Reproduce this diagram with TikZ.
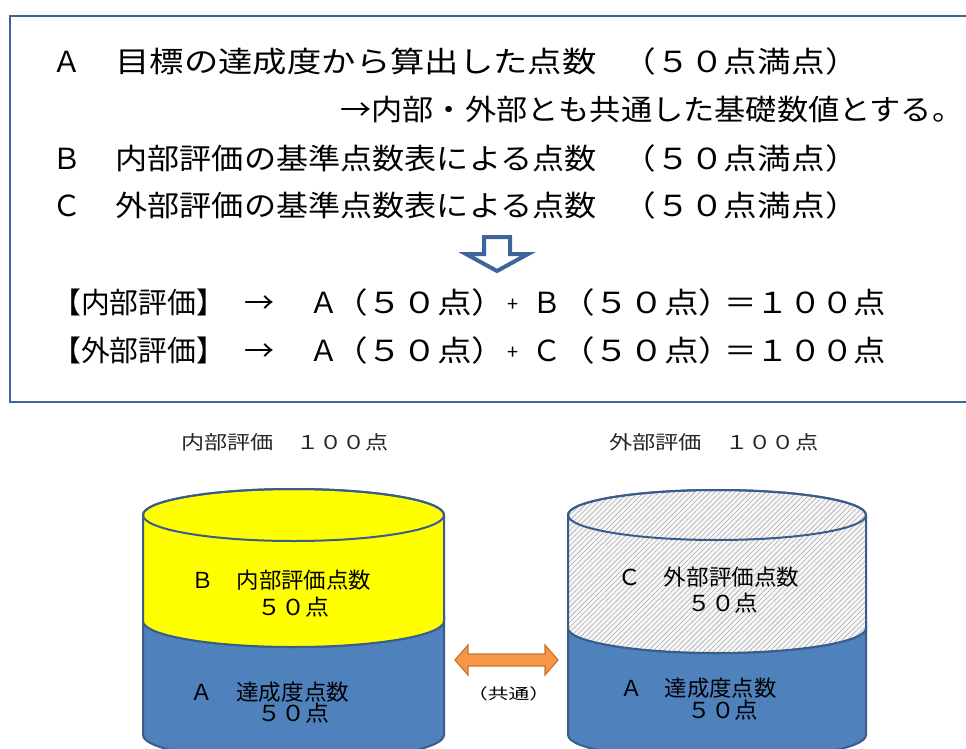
\documentclass[tikz,border=0pt]{standalone}
\usepackage{fontspec}
\usepackage{graphicx}
\setmainfont{Noto Sans CJK JP}
\usetikzlibrary{patterns.meta}
\definecolor{frameblue}{HTML}{3F639B}
\definecolor{cylblue}{HTML}{4F81BD}
\definecolor{cyledge}{HTML}{385D8A}
\definecolor{cylyellow}{HTML}{FFFF00}
\definecolor{arroworange}{HTML}{F79646}
\definecolor{arrowedge}{HTML}{C8742F}
\definecolor{titlegray}{HTML}{262626}
\newcommand\fitw[2]{\resizebox{#1}{\height}{#2}}
\newcommand\cutr[1]{\makebox[0.42em][l]{#1}}
\tikzset{
  txt/.style={inner sep=0pt, anchor=base west},
  big/.style={txt, font=\fontsize{29}{29}\selectfont},
  mid/.style={txt, font=\fontsize{22}{22}\selectfont},
  ttl/.style={txt, font=\fontsize{19}{19}\selectfont, text=titlegray},
  sml/.style={txt, font=\fontsize{15}{15}\selectfont},
  plus/.style={txt, font=\fontsize{20}{20}\selectfont},
  cyl/.style={draw=cyledge, line width=2pt},
}
\begin{document}
\begin{tikzpicture}[x=1pt,y=-1pt]
\useasboundingbox (0,0) rectangle (966,749);
\fill[white] (0,0) rectangle (966,749);
% top frame
\draw[frameblue, line width=2.5pt] (10,16) rectangle (985,402);
% line A
\node[big] (la) at (52,73) {Ａ};
\node[big] (ta) at (115.3,73) {\fitw{481pt}{目標の達成度から算出した点数}};
\node[big] (pa) at (622.7,73) {\fitw{216.3pt}{（５０点満点\cutr{）}}};
% line 2
\node[big] (t2) at (340,121) {\fitw{605pt}{→内部・外部とも共通した基礎数値とする\cutr{。}}};
% line B
\node[big] (lb) at (52,169) {Ｂ};
\node[big] (tb) at (115.4,169) {\fitw{481pt}{内部評価の基準点数表による点数}};
\node[big] (pb) at (622.7,169) {\fitw{216.3pt}{（５０点満点\cutr{）}}};
% line C
\node[big] (lc) at (52,216) {Ｃ};
\node[big] (tc) at (115.4,216) {\fitw{481pt}{外部評価の基準点数表による点数}};
\node[big] (pc) at (622.7,216) {\fitw{216.3pt}{（５０点満点\cutr{）}}};
% down arrow
\draw[frameblue, line width=4pt, fill=white, line join=miter]
  (484,237) -- (510,237) -- (510,254) -- (528,254) -- (497,271) -- (466,254) -- (484,254) -- cycle;
% formula 1
\node[big] (f1a) at (52,313) {\fitw{173pt}{【内部評価】}};
\node[big] (f1b) at (244,313) {\fitw{30pt}{→}};
\node[big] (f1c) at (309,313) {Ａ};
\node[big] (f1d) at (333,313) {\fitw{153.1pt}{（５０点\cutr{）}}};
\node[plus] (f1e) at (507.5,311) {+};
\node[big] (f1f) at (532,313) {Ｂ};
\node[big] (f1g) at (560,313) {\fitw{153.1pt}{（５０点\cutr{）}}};
\node[big] (f1h) at (724,313) {\fitw{162pt}{＝１００点}};
% formula 2
\node[big] (f2a) at (52,361) {\fitw{173pt}{【外部評価】}};
\node[big] (f2b) at (244,361) {\fitw{30pt}{→}};
\node[big] (f2c) at (309,361) {Ａ};
\node[big] (f2d) at (333,361) {\fitw{153.1pt}{（５０点\cutr{）}}};
\node[plus] (f2e) at (507.5,359) {+};
\node[big] (f2f) at (532,361) {Ｃ};
\node[big] (f2g) at (560,361) {\fitw{153.1pt}{（５０点\cutr{）}}};
\node[big] (f2h) at (724,361) {\fitw{162pt}{＝１００点}};
% titles
\node[ttl] (tl) at (180.8,449) {\fitw{208pt}{内部評価　１００点}};
\node[ttl] (tr) at (608.8,449) {\fitw{209.5pt}{外部評価　１００点}};
% left cylinder
\path[cyl, fill=cylblue] (143,621) arc[start angle=180, end angle=0, x radius=150.5, y radius=26]
  -- (444,735) arc[start angle=0, end angle=180, x radius=150.5, y radius=26] -- cycle;
\path[cyl, fill=cylyellow] (143,515) -- (143,621) arc[start angle=180, end angle=0, x radius=150.5, y radius=26]
  -- (444,515) arc[start angle=0, end angle=-180, x radius=150.5, y radius=26] -- cycle;
\draw[cyl] (293.5,515) ellipse[x radius=150.5, y radius=26];
% right cylinder
\path[cyl, fill=cylblue] (568,628) arc[start angle=180, end angle=0, x radius=149, y radius=25]
  -- (866,735) arc[start angle=0, end angle=180, x radius=149, y radius=25] -- cycle;
\path[fill=gray!6] (568,515) -- (568,628) arc[start angle=180, end angle=0, x radius=149, y radius=25]
  -- (866,515) arc[start angle=0, end angle=-180, x radius=149, y radius=25] -- cycle;
\path[pattern={Lines[angle=45, distance=3.6pt, line width=0.6pt]}, pattern color=gray!65]
  (568,515) -- (568,628) arc[start angle=180, end angle=0, x radius=149, y radius=25]
  -- (866,515) arc[start angle=0, end angle=-180, x radius=149, y radius=25] -- cycle;
\draw[cyl] (568,515) -- (568,628) arc[start angle=180, end angle=0, x radius=149, y radius=25]
  -- (866,515) arc[start angle=0, end angle=-180, x radius=149, y radius=25] -- cycle;
\draw[cyl] (717,515) ellipse[x radius=149, y radius=25];
% cylinder texts
\node[mid] (lbt) at (191.6,588) {\fitw{179.5pt}{Ｂ　内部評価点数}};
\node[mid] (lbn) at (257,615) {\fitw{72pt}{５０点}};
\node[mid] (lat) at (190.7,700) {\fitw{158.4pt}{Ａ　達成度点数}};
\node[mid] (lan) at (257,721) {\fitw{72pt}{５０点}};
\node[mid] (rct) at (618.6,585) {\fitw{180.5pt}{Ｃ　外部評価点数}};
\node[mid] (rcn) at (687.3,611) {\fitw{71pt}{５０点}};
\node[mid] (rat) at (619.8,696) {\fitw{156.4pt}{Ａ　達成度点数}};
\node[mid] (ran) at (687.3,718) {\fitw{71pt}{５０点}};
% double arrow
\draw[fill=arroworange, draw=arrowedge, line width=1.2pt, line join=miter]
  (455,660) -- (468,645) -- (468,654) -- (545,654) -- (545,645) -- (558,660)
  -- (545,675) -- (545,666) -- (468,666) -- (468,675) -- cycle;
\node[sml] (kyotsu) at (467,699) {\fitw{83pt}{（共通）}};
\end{tikzpicture}
\end{document}
